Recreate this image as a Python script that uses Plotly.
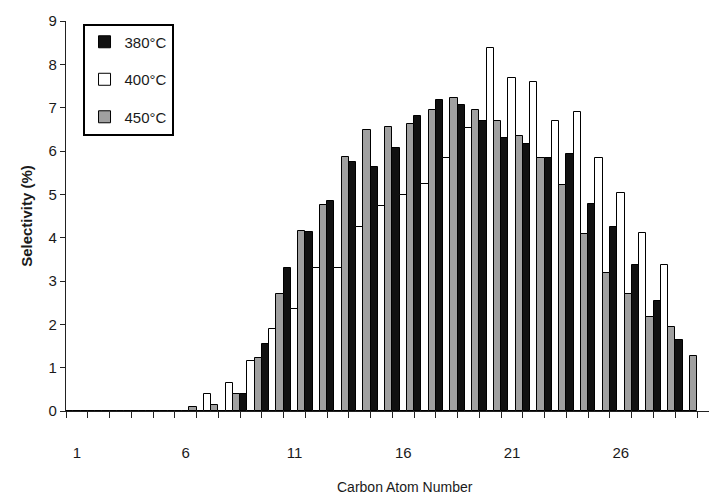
import plotly.graph_objects as go

# Carbon atom numbers C1..C29
carbon = list(range(1, 30))

# Product selectivity (%) per carbon number at each reaction temperature
sel_380 = [0, 0, 0, 0, 0, 0, 0, 0, 0.40, 1.55,
           3.30, 4.13, 4.84, 5.75, 5.62, 6.08, 6.80, 7.17, 7.07, 6.70,
           6.30, 6.16, 5.85, 5.92, 4.78, 4.25, 3.36, 2.54, 1.65]
sel_400 = [0, 0, 0, 0, 0, 0, 0.40, 0.65, 1.15, 1.90,
           2.35, 3.30, 3.30, 4.25, 4.72, 4.98, 5.23, 5.84, 6.53, 8.38,
           7.69, 7.59, 6.70, 6.90, 5.85, 5.02, 4.11, 3.36, 0]
sel_450 = [0, 0, 0, 0, 0, 0.10, 0.15, 0.40, 1.22, 2.70,
           4.15, 4.75, 5.86, 6.48, 6.55, 6.63, 6.95, 7.23, 6.94, 6.70,
           6.34, 5.85, 5.21, 4.08, 3.19, 2.70, 2.16, 1.93, 1.27]

series = [
    ("380°C", sel_380, "#111111"),
    ("400°C", sel_400, "#ffffff"),
    ("450°C", sel_450, "#a0a0a0"),
]

x_tick_vals = [1, 6, 11, 16, 21, 26]
y_tick_vals = list(range(0, 10))

font_family = "Arial, Liberation Sans, sans-serif"
ink = "#1a1a1a"

fig = go.Figure()
for i, (name, vals, color) in enumerate(series):
    fig.add_trace(go.Bar(
        x=carbon, y=vals, name=name, legendgroup=f"g{i}",
        marker=dict(color=color, line=dict(color="#000000", width=1)),
    ))

fig.update_layout(
    width=709, height=494,
    margin=dict(l=66, r=0, t=21, b=83),
    paper_bgcolor="white", plot_bgcolor="white",
    barmode="group", bargap=0, bargroupgap=0,
    font=dict(family=font_family, size=15, color=ink),
    legend=dict(
        x=0.026, y=0.993, xanchor="left", yanchor="top",
        bordercolor="#000000", borderwidth=1.8, bgcolor="white",
        font=dict(size=15, color=ink), tracegroupgap=15,
        itemwidth=30,
    ),
    showlegend=True,
)

fig.update_xaxes(
    range=[0.5, 30.05],
    tickmode="array", tickvals=x_tick_vals,
    ticks="outside", ticklen=6, tickcolor="rgba(0,0,0,0)",
    ticklabelstandoff=22,
    tickfont=dict(size=15, color=ink),
    minor=dict(tickmode="array", tickvals=[v + 0.5 for v in range(0, 30)],
               ticks="outside", ticklen=6, tickcolor="#222222", tickwidth=1),
    showline=True, linecolor="#222222", linewidth=1.2,
    showgrid=False, zeroline=False,
)

fig.update_yaxes(
    range=[0, 9],
    tickmode="array", tickvals=y_tick_vals,
    ticks="outside", ticklen=5, tickcolor="#222222",
    tickfont=dict(size=15, color=ink),
    showline=True, linecolor="#222222", linewidth=1.2,
    showgrid=False, zeroline=False,
    title=dict(text="<b>Selectivity (%)</b>", font=dict(size=15, color=ink), standoff=12),
)

fig.add_annotation(
    text="Carbon Atom Number", xref="paper", yref="paper",
    x=0.527, y=0, yshift=-76, xanchor="center", yanchor="middle",
    showarrow=False, font=dict(size=14, color=ink),
)

fig.write_html("out.html")
